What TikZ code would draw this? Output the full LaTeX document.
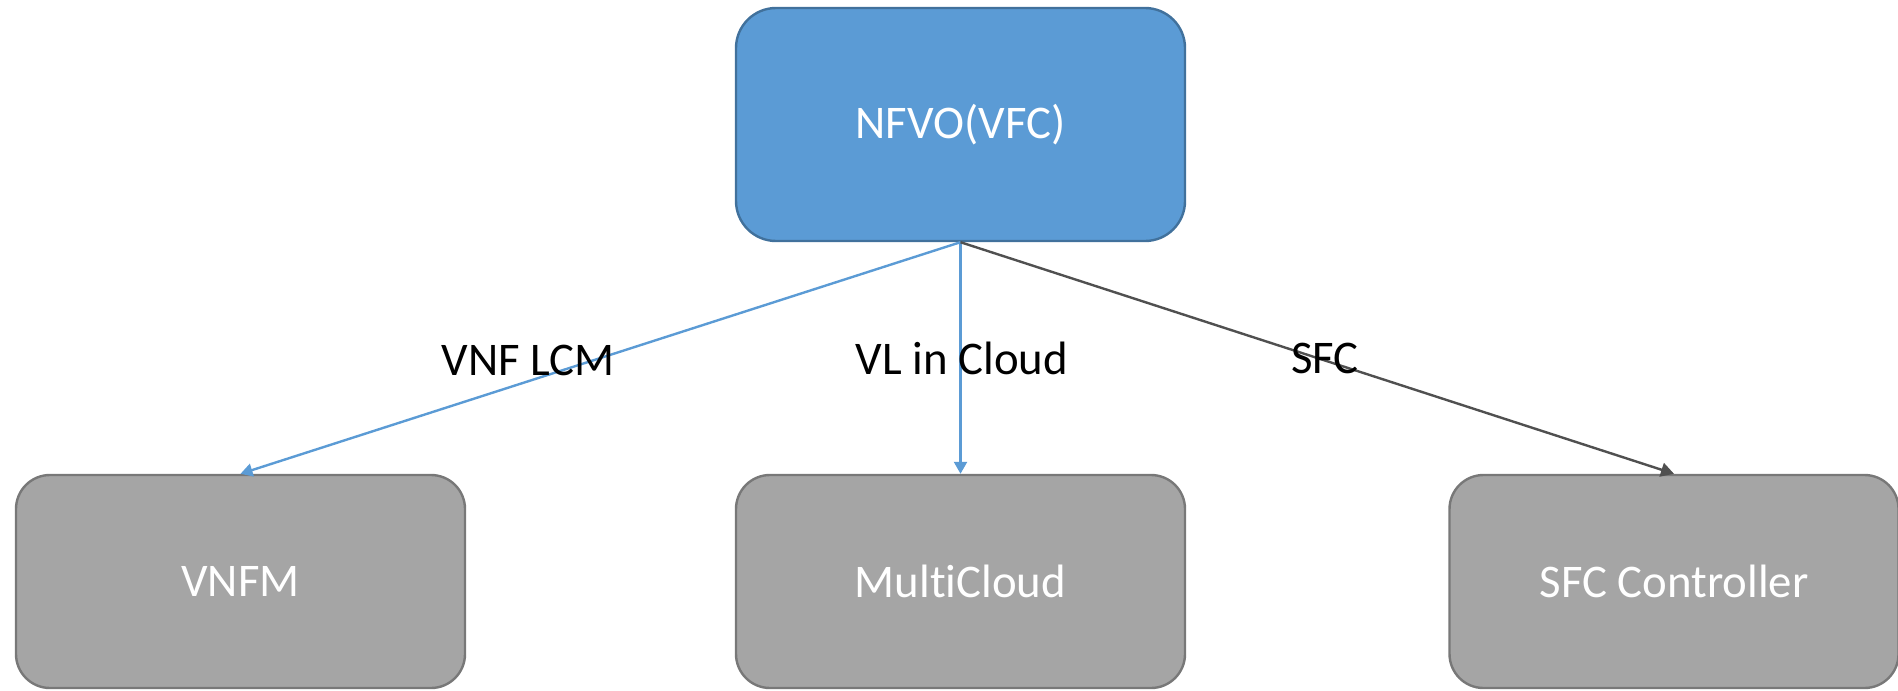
\documentclass[tikz,border=0pt]{standalone}
\usepackage{fontspec}
\setmainfont[Ligatures=NoCommon]{Carlito}
\usetikzlibrary{arrows.meta}
\definecolor{nfvoFill}{HTML}{5B9BD5}
\definecolor{nfvoLine}{HTML}{41719C}
\definecolor{grayFill}{HTML}{A5A5A5}
\definecolor{grayLine}{HTML}{787878}
\definecolor{darkLink}{HTML}{505050}
\begin{document}
\begin{tikzpicture}[x=0.5pt,y=-0.5pt,
  every node/.style={font=\fontsize{23.4}{28}\selectfont},
  topbox/.style={rectangle, rounded corners=20pt, fill=nfvoFill, draw=nfvoLine,
    line width=1.2pt, minimum width=224.5pt, minimum height=116.5pt,
    inner sep=0pt, text=white},
  subbox/.style={rectangle, rounded corners=17pt, fill=grayFill, draw=grayLine,
    line width=1.2pt, minimum width=224.5pt, minimum height=106.5pt,
    inner sep=0pt, text=white},
  bluelink/.style={draw=nfvoFill, line width=1.2pt,
    -{Triangle[length=6pt,width=6.5pt]}},
  darklink/.style={draw=darkLink, line width=1.2pt,
    -{Triangle[length=6.5pt,width=7pt]}},
  linklabel/.style={text=black, inner sep=0pt}]
\useasboundingbox (0,0) rectangle (1898,690);

% orchestrator and the three managed components
\node[topbox] (nfvo) at (960.5,124.5) {NFVO(VFC)};
\node[subbox] (vnfm) at (240.5,581.5) {VNFM};
\node[subbox] (mc)   at (960.5,581.5) {MultiCloud};
\node[subbox] (sfcc) at (1674,581.5)  {SFC Controller};

% interfaces from the orchestrator
\draw[bluelink] (nfvo.south) -- (vnfm.north);
\draw[bluelink] (nfvo.south) -- (mc.north);
\draw[darklink] (nfvo.south) -- (sfcc.north);

% interface names
\node[linklabel] (lcm) at (528,360) {VNF LCM};
\node[linklabel] (vl)  at (962,358) {VL in Cloud};
\node[linklabel] (sfc) at (1325,358) {SFC};
\end{tikzpicture}
\end{document}
